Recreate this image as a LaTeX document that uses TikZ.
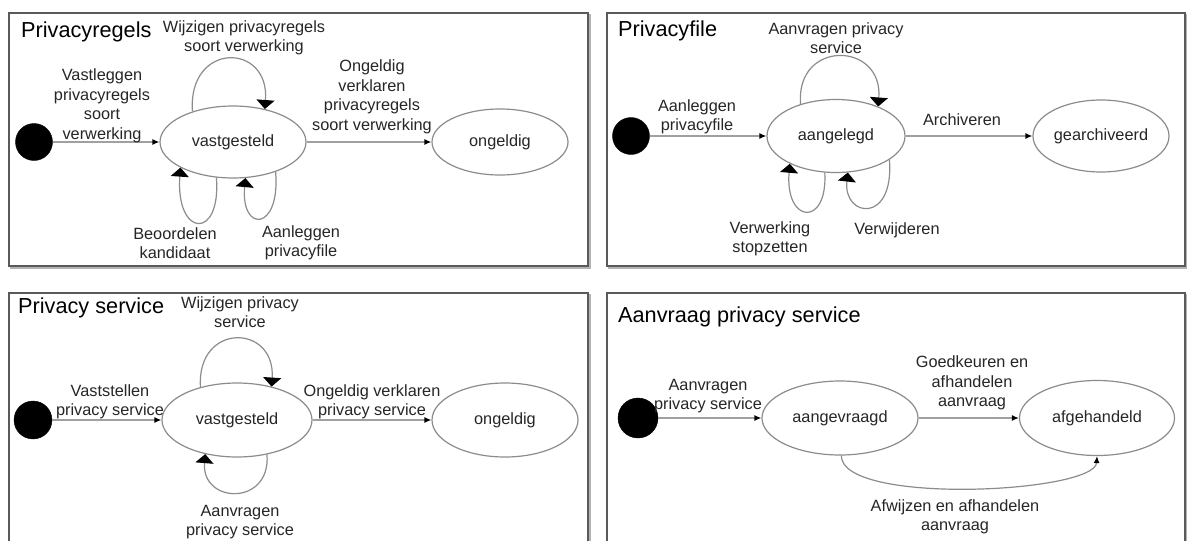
\documentclass[tikz,border=0pt]{standalone}
\usepackage{fontspec}
\setmainfont{Liberation Sans}
\usetikzlibrary{shapes.geometric,arrows.meta}
\definecolor{boxcol}{HTML}{5A5A5A}
\definecolor{shadowcol}{HTML}{B4B4B4}
\definecolor{statecol}{HTML}{8C8C8C}
\definecolor{linecol}{HTML}{A0A0A0}
\definecolor{txtcol}{HTML}{262626}
\tikzset{
 panel/.style={draw=boxcol,line width=1.6pt,fill=white},
 panelshadow/.style={draw=shadowcol,line width=1.6pt},
 titletext/.style={anchor=base west,inner sep=0pt,font=\fontsize{21.7}{26}\selectfont,text=black},
 state/.style={ellipse,draw=statecol,line width=1.2pt,inner sep=0pt,font=\fontsize{16.3}{19.5}\selectfont,text=txtcol},
 initstate/.style={circle,fill=black,draw=black,minimum size=37pt,inner sep=0pt},
 lbl/.style={align=center,inner sep=0pt,font=\fontsize{16.3}{19.5}\selectfont,text=txtcol},
 trans/.style={draw=linecol,line width=1.8pt,-{Latex[length=7pt,width=6pt,black]}},
 loopedge/.style={draw=statecol,line width=1.2pt,-{Triangle[length=9pt,width=18pt,black]}},
}
\begin{document}
\begin{tikzpicture}[x=1pt,y=-1pt]
\clip (0,0) rectangle (1187,541);
\fill[white] (0,0) rectangle (1187,541);
% panels
\draw[panelshadow] (11,15) rectangle (590,268);
\draw[panel] (9,13) rectangle (588,266);
\draw[panelshadow] (609,15) rectangle (1187,268);
\draw[panel] (607,13) rectangle (1185,266);
\draw[panelshadow] (11,295) rectangle (590,570);
\draw[panel] (9,293) rectangle (588,570);
\draw[panelshadow] (609,295) rectangle (1187,570);
\draw[panel] (607,293) rectangle (1185,570);

% ---------- Panel 1: Privacyregels
\node[titletext] (t1) at (21,37) {Privacyregels};
\node[initstate] (i1) at (34,142) {};
\node[state,minimum width=146pt,minimum height=72pt] (v1) at (233,142) {vastgesteld};
\node[state,minimum width=136pt,minimum height=66pt] (o1) at (500,142) {ongeldig};
\draw[trans] (i1) -- (v1);
\draw[trans] (v1) -- (o1);
\node[lbl] (l1a) at (102,106) {Vastleggen\\privacyregels\\soort\\verwerking};
\node[lbl] (l1b) at (372,97) {Ongeldig\\verklaren\\privacyregels\\soort verwerking};
\node[lbl] (l1c) at (244,38) {Wijzigen privacyregels\\soort verwerking};
\node[lbl] (l1d) at (175,243) {Beoordelen\\kandidaat};
\node[lbl] (l1e) at (301,243) {Aanleggen\\privacyfile};
\draw[loopedge] (v1.143) .. controls +(-5,-70) and +(5,-67) .. (v1.46);
\draw[loopedge] (v1.245) .. controls +(5,63) and +(-5,70) .. (v1.206);
\draw[loopedge] (v1.-35) .. controls +(5,60) and +(-5,55) .. (v1.-71);

% ---------- Panel 2: Privacyfile
\node[titletext] (t2) at (618,36) {Privacyfile};
\node[initstate] (i2) at (631,136) {};
\node[state,minimum width=138pt,minimum height=73pt] (a2) at (836,136) {aangelegd};
\node[state,minimum width=136pt,minimum height=72pt] (g2) at (1101,136) {gearchiveerd};
\draw[trans] (i2) -- (a2);
\draw[trans] (a2) -- (g2);
\node[lbl] (l2a) at (697,117) {Aanleggen\\privacyfile};
\node[lbl] (l2b) at (962,120) {Archiveren};
\node[lbl] (l2c) at (836,38) {Aanvragen privacy\\service};
\node[lbl] (l2d) at (770,239) {Verwerking\\stopzetten};
\node[lbl] (l2e) at (897,230) {Verwijderen};
\draw[loopedge] (a2.138) .. controls +(-5,-65) and +(5,-65) .. (a2.35);
\draw[loopedge] (a2.253) .. controls +(3,55) and +(-5,60) .. (a2.211);
\draw[loopedge] (a2.-24) .. controls +(5,65) and +(-5,45) .. (a2.-72);

% ---------- Panel 3: Privacy service
\node[titletext] (t3) at (18,313) {Privacy service};
\node[initstate,minimum size=38pt] (i3) at (33,420) {};
\node[state,minimum width=150pt,minimum height=74pt] (v3) at (237,420) {vastgesteld};
\node[state,minimum width=146pt,minimum height=74pt] (o3) at (505,420) {ongeldig};
\draw[trans] (i3) -- (v3);
\draw[trans] (v3) -- (o3);
\node[lbl] (l3a) at (110,402) {Vaststellen\\privacy service};
\node[lbl] (l3b) at (372,402) {Ongeldig verklaren\\privacy service};
\node[lbl] (l3c) at (240,312) {Wijzigen privacy\\service};
\node[lbl] (l3d) at (240,522) {Aanvragen\\privacy service};
\draw[loopedge] (v3.138) .. controls +(-4,-65) and +(4,-63) .. (v3.44);
\draw[loopedge] (v3.-49) .. controls +(4,52) and +(-4,50) .. (v3.227);

% ---------- Panel 4: Aanvraag privacy service
\node[titletext] (t4) at (618,322) {Aanvraag privacy service};
\node[initstate,minimum size=40pt] (i4) at (638,418) {};
\node[state,minimum width=156pt,minimum height=74pt] (a4) at (840,418) {aangevraagd};
\node[state,minimum width=155pt,minimum height=75pt] (f4) at (1097,418) {afgehandeld};
\draw[trans] (i4) -- (a4);
\draw[trans] (a4) -- (f4);
\node[lbl] (l4a) at (708,396) {Aanvragen\\privacy service};
\node[lbl] (l4b) at (972,383) {Goedkeuren en\\afhandelen\\aanvraag};
\node[lbl] (l4c) at (955,517) {Afwijzen en afhandelen\\aanvraag};
\draw[draw=statecol,line width=1.2pt,-{Latex[length=7pt,width=6pt,black]}] (a4.-88) .. controls +(0,50) and +(-2,37) .. (f4.-90);
\end{tikzpicture}
\end{document}
